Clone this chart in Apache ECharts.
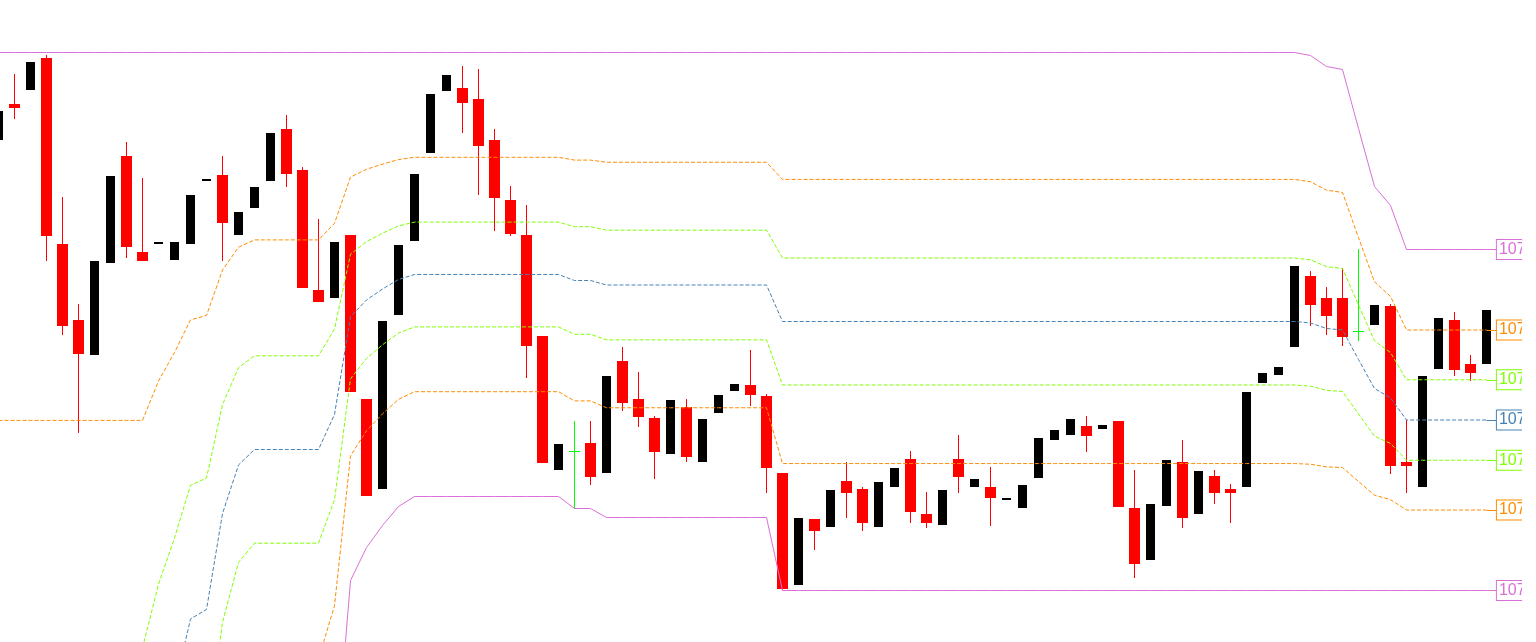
<!DOCTYPE html>
<html><head><meta charset="utf-8">
<script src="https://cdn.jsdelivr.net/npm/echarts@6/dist/echarts.min.js"></script>
<style>html,body{margin:0;padding:0;background:#fff;width:1536px;height:642px;overflow:hidden}#chart{width:1522px;height:642px}</style>
</head><body><div id="chart"></div>
<script>
// OHLC per bar (price)
const opens = [108.020,108.092,108.120,108.184,107.812,107.660,107.590,107.774,107.988,107.796,
107.812,107.780,107.812,107.938,107.950,107.830,107.884,107.938,108.042,107.960,
107.720,107.704,107.830,107.502,107.322,107.670,107.818,107.994,108.118,108.124,
108.102,108.020,107.900,107.830,107.628,107.360,107.398,107.414,107.354,107.578,
107.502,107.464,107.392,107.486,107.376,107.474,107.518,107.530,107.508,107.354,
107.130,107.262,107.246,107.338,107.322,107.246,107.326,107.382,107.272,107.250,
107.382,107.326,107.326,107.300,107.284,107.344,107.420,107.430,107.448,107.442,
107.458,107.284,107.180,107.288,107.376,107.272,107.348,107.322,107.326,107.534,
107.550,107.606,107.748,107.704,107.704,107.638,107.650,107.688,107.376,107.326,
107.562,107.660,107.572,107.572];
const closes = [108.078,108.084,108.176,107.828,107.648,107.592,107.778,107.948,107.806,107.778,
107.816,107.816,107.910,107.942,107.854,107.876,107.926,108.034,107.952,107.724,
107.696,107.816,107.516,107.308,107.658,107.810,107.952,108.112,108.150,108.094,
108.008,107.904,107.832,107.608,107.374,107.412,107.398,107.346,107.548,107.494,
107.466,107.396,107.500,107.386,107.462,107.510,107.532,107.510,107.364,107.122,
107.264,107.238,107.320,107.314,107.254,107.336,107.364,107.276,107.254,107.320,
107.346,107.342,107.304,107.304,107.330,107.424,107.440,107.462,107.428,107.450,
107.286,107.172,107.292,107.380,107.264,107.358,107.314,107.314,107.516,107.554,
107.566,107.768,107.690,107.668,107.626,107.638,107.690,107.368,107.368,107.548,
107.664,107.560,107.554,107.680];
const lows = [108.020,108.062,108.120,107.778,107.630,107.434,107.590,107.774,107.784,107.778,
107.812,107.780,107.812,107.938,107.778,107.830,107.884,107.938,107.926,107.724,
107.696,107.704,107.516,107.308,107.322,107.670,107.818,107.994,108.118,108.034,
107.910,107.838,107.828,107.544,107.374,107.360,107.284,107.330,107.354,107.478,
107.446,107.342,107.392,107.376,107.376,107.474,107.518,107.488,107.314,107.120,
107.130,107.200,107.246,107.264,107.238,107.246,107.326,107.254,107.244,107.250,
107.314,107.326,107.248,107.300,107.284,107.344,107.420,107.430,107.396,107.442,
107.286,107.144,107.180,107.288,107.244,107.272,107.292,107.254,107.326,107.534,
107.550,107.606,107.648,107.630,107.608,107.620,107.650,107.352,107.314,107.326,
107.562,107.548,107.538,107.572];
const highs = [108.078,108.152,108.176,108.190,107.906,107.692,107.778,107.948,108.016,107.944,
107.816,107.816,107.910,107.942,107.988,107.876,107.926,108.034,108.070,107.966,
107.862,107.816,107.830,107.502,107.658,107.810,107.952,108.112,108.150,108.168,
108.162,108.042,107.928,107.890,107.628,107.412,107.458,107.458,107.548,107.606,
107.556,107.468,107.500,107.502,107.462,107.510,107.532,107.600,107.512,107.354,
107.264,107.262,107.320,107.376,107.326,107.336,107.364,107.398,107.316,107.320,
107.430,107.342,107.366,107.304,107.330,107.424,107.440,107.462,107.468,107.450,
107.458,107.360,107.292,107.380,107.420,107.358,107.360,107.332,107.516,107.554,
107.566,107.768,107.758,107.726,107.764,107.802,107.690,107.692,107.460,107.548,
107.664,107.676,107.590,107.680];
// channel (highest high / lowest low) per bar
const upperBand = [108.196,108.196,108.196,108.196,108.196,108.196,108.196,108.196,108.196,108.196,
108.196,108.196,108.196,108.196,108.196,108.196,108.196,108.196,108.196,108.196,
108.196,108.196,108.196,108.196,108.196,108.196,108.196,108.196,108.196,108.196,
108.196,108.196,108.196,108.196,108.196,108.196,108.196,108.196,108.196,108.196,
108.196,108.196,108.196,108.196,108.196,108.196,108.196,108.196,108.196,108.196,
108.196,108.196,108.196,108.196,108.196,108.196,108.196,108.196,108.196,108.196,
108.196,108.196,108.196,108.196,108.196,108.196,108.196,108.196,108.196,108.196,
108.196,108.196,108.196,108.196,108.196,108.196,108.196,108.196,108.196,108.196,
108.196,108.196,108.190,108.168,108.162,108.044,107.928,107.890,107.802,107.802,
107.802,107.802,107.802,107.802];
const lowerBand = [105.078,105.078,105.078,105.078,105.078,105.078,105.078,105.078,105.078,105.078,
105.412,105.654,105.930,105.968,106.352,106.546,106.608,106.608,106.608,106.608,
106.608,106.748,107.140,107.206,107.250,107.288,107.308,107.308,107.308,107.308,
107.308,107.308,107.308,107.308,107.308,107.308,107.284,107.284,107.266,107.266,
107.266,107.266,107.266,107.266,107.266,107.266,107.266,107.266,107.266,107.120,
107.120,107.120,107.120,107.120,107.120,107.120,107.120,107.120,107.120,107.120,
107.120,107.120,107.120,107.120,107.120,107.120,107.120,107.120,107.120,107.120,
107.120,107.120,107.120,107.120,107.120,107.120,107.120,107.120,107.120,107.120,
107.120,107.120,107.120,107.120,107.120,107.120,107.120,107.120,107.120,107.120,
107.120,107.120,107.120,107.120];
const fibRatios = [0.236, 0.382, 0.5, 0.618, 0.764];

const BULL = '#000000', BEAR = '#ff0000', DOJI = '#00ff00';
const CHANNEL = '#da70d6';
const fibColors = ['#ff8c00', '#7fff00', '#4682b4', '#7fff00', '#ff8c00'];

const candleData = opens.map((o, i) => [i, o, closes[i], lows[i], highs[i]]);

function renderCandle(params, api) {
  const i = api.value(0), o = api.value(1), c = api.value(2), l = api.value(3), h = api.value(4);
  const xc = Math.round(api.coord([i, o])[0] - 0.5) + 0.5;
  const py = v => Math.round(api.coord([i, v])[1] - 0.5);
  const yo = py(o), yc = py(c), yl = py(l), yh = py(h);
  const ch = [];
  if (o === c) {
    ch.push({type: 'line', shape: {x1: xc, y1: yh, x2: xc, y2: yl + 1}, style: {stroke: DOJI, lineWidth: 1}});
    ch.push({type: 'line', shape: {x1: xc - 5.5, y1: yo + 0.5, x2: xc + 5.5, y2: yo + 0.5}, style: {stroke: DOJI, lineWidth: 1}});
  } else if (c < o) {
    ch.push({type: 'line', shape: {x1: xc, y1: yh, x2: xc, y2: yl}, style: {stroke: BEAR, lineWidth: 1}});
    ch.push({type: 'rect', shape: {x: xc - 5.5, y: yo, width: 11, height: Math.max(1, yc - yo)}, style: {fill: BEAR}});
  } else {
    ch.push({type: 'rect', shape: {x: xc - 4.5, y: yc, width: 9, height: Math.max(1, yo - yc)}, style: {fill: BULL}});
  }
  return {type: 'group', children: ch};
}

function levelSeries(values, color, dashed) {
  const last = values.length - 1;
  const v = values[last];
  return {
    type: 'line', data: values.map((val, i) => [i, val]), showSymbol: false, symbol: 'none',
    lineStyle: {color: color, width: 1, type: dashed ? [4, 2] : 'solid'},
    z: 3, silent: true, clip: true,
    markLine: {
      symbol: 'none', silent: true, animation: false,
      lineStyle: {color: color, width: 1, type: 'solid'},
      label: {show: true, position: 'end', distance: 0, formatter: () => v.toFixed(3),
        color: color, fontSize: 16, lineHeight: 17, fontFamily: 'Liberation Sans, Arial, sans-serif',
        backgroundColor: '#fff', borderColor: color, borderWidth: 1, padding: [1, 2, 1, 2]},
      emphasis: {disabled: true},
      data: [[{coord: [last, v]}, {coord: [last + 0.65, v]}]]
    }
  };
}

const series = [{
  type: 'custom', data: candleData, renderItem: renderCandle, z: 2, silent: true,
  encode: {x: 0, y: [1, 2, 3, 4]}
}];
series.push(levelSeries(upperBand, CHANNEL, false));
series.push(levelSeries(lowerBand, CHANNEL, false));
fibRatios.forEach((r, k) => {
  const lvl = upperBand.map((u, i) => +(u - r * (u - lowerBand[i])).toFixed(4));
  series.push(levelSeries(lvl, fibColors[k], true));
});

const chart = echarts.init(document.getElementById('chart'), null, {renderer: 'canvas'});
chart.setOption({
  animation: false,
  backgroundColor: '#ffffff',
  grid: {left: 0, right: 0, top: 0, bottom: 0},
  xAxis: {type: 'value', min: 0.09375, max: 95.21875, show: false},
  yAxis: {type: 'value', min: 107.017, max: 108.301, show: false},
  series: series
});
</script>
</body></html>
